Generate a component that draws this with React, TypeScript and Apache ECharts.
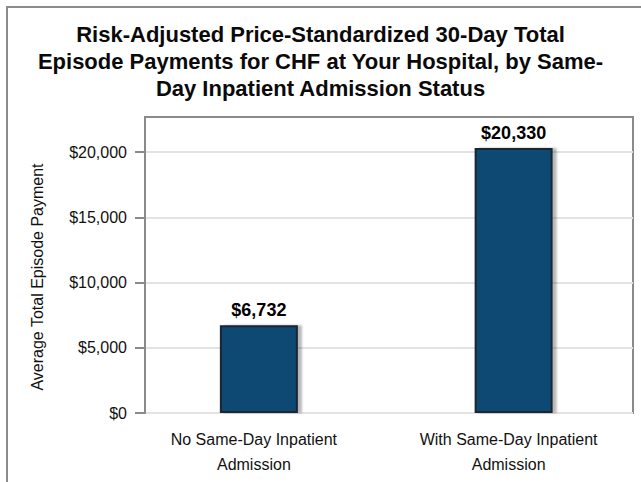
import React, { useEffect, useRef } from "react";
import * as echarts from "echarts";

const titleLines = [
  "Risk-Adjusted Price-Standardized 30-Day Total",
  "Episode Payments for CHF at Your Hospital, by Same-",
  "Day Inpatient Admission Status",
];
const categories = [
  "No Same-Day Inpatient\nAdmission",
  "With Same-Day Inpatient\nAdmission",
];
const payments = [6732, 20330];
const yTicks = [0, 5000, 10000, 15000, 20000];
const yAxisName = "Average Total Episode Payment";

const fmtMoney = (v: number) => "$" + Math.round(v).toLocaleString("en-US");

export default function App() {
  const ref = useRef<HTMLDivElement>(null);
  useEffect(() => {
    if (!ref.current) return;
    const chart = echarts.init(ref.current, null, { renderer: "svg" });
    const font = "Liberation Sans, Arial, Helvetica, sans-serif";
    const yMax = 22700;
    chart.setOption({
      animation: false,
      backgroundColor: "#ffffff",
      textStyle: { fontFamily: font },
      title: {
        text: titleLines.join("\n"),
        left: "center",
        top: 16,
        textStyle: {
          fontFamily: font,
          fontSize: 22,
          fontWeight: "bold",
          color: "#0a0a0a",
          lineHeight: 27,
        },
      },
      graphic: [
        {
          type: "rect",
          shape: { x: 7, y: 7, width: 700, height: 600 },
          style: { fill: "none", stroke: "#8c8c8c", lineWidth: 2 },
          silent: true,
          z: 100,
        },
        {
          type: "text",
          x: 37,
          y: 277,
          rotation: Math.PI / 2,
          style: {
            text: yAxisName,
            fontSize: 16,
            fontFamily: font,
            fill: "#111111",
            align: "center",
            verticalAlign: "middle",
          },
          silent: true,
        },
      ],
      grid: [
        {
          left: 145,
          right: 8,
          top: 117,
          bottom: 69,
          show: true,
          borderColor: "#8a8a8a",
          borderWidth: 2,
          backgroundColor: "#ffffff",
        },
        {
          left: 131.5,
          width: 518,
          top: 117,
          bottom: 69,
        },
      ],
      xAxis: [
        {
          type: "category",
          gridIndex: 0,
          data: categories,
          show: false,
        },
        {
          type: "category",
          gridIndex: 1,
          data: categories,
          axisLine: { show: false },
          axisTick: { show: false },
          axisLabel: {
            margin: 14,
            fontSize: 16,
            lineHeight: 25,
            color: "#111111",
            fontFamily: font,
            interval: 0,
            padding: [0, 10, 0, 0],
          },
        },
      ],
      yAxis: [
        {
          type: "value",
          gridIndex: 0,
          min: 0,
          max: yMax,
          interval: 5000,
          axisLine: { show: true, lineStyle: { color: "#8a8a8a", width: 2 } },
          axisTick: {
            show: true,
            length: 10,
            customValues: yTicks,
            lineStyle: { color: "#8a8a8a", width: 2 },
          },
          axisLabel: {
            margin: 18,
            fontSize: 16,
            color: "#111111",
            fontFamily: font,
            customValues: yTicks,
            formatter: (v: number) => fmtMoney(v),
          },
          splitLine: { show: true, lineStyle: { color: "#e3e3e3", width: 2 } },
        },
        {
          type: "value",
          gridIndex: 1,
          min: 0,
          max: yMax,
          interval: 5000,
          show: false,
          splitLine: { show: false },
        },
      ],
      series: [
        {
          type: "bar",
          xAxisIndex: 1,
          yAxisIndex: 1,
          data: payments,
          barWidth: 78,
          itemStyle: {
            color: "#074a73",
            borderColor: "#1a2530",
            borderWidth: 2,
            shadowColor: "rgba(0,0,0,0.28)",
            shadowOffsetX: 4,
            shadowOffsetY: 0,
            shadowBlur: 2,
          },
          label: {
            show: true,
            position: "top",
            distance: 6,
            fontSize: 18,
            fontWeight: "bold",
            color: "#000000",
            fontFamily: font,
            formatter: (p: any) => fmtMoney(p.value),
          },
        },
      ],
    });
    return () => chart.dispose();
  }, []);
  return (
    <div
      ref={ref}
      style={{ position: "fixed", left: 0, top: 0, width: 641, height: 482 }}
    />
  );
}
